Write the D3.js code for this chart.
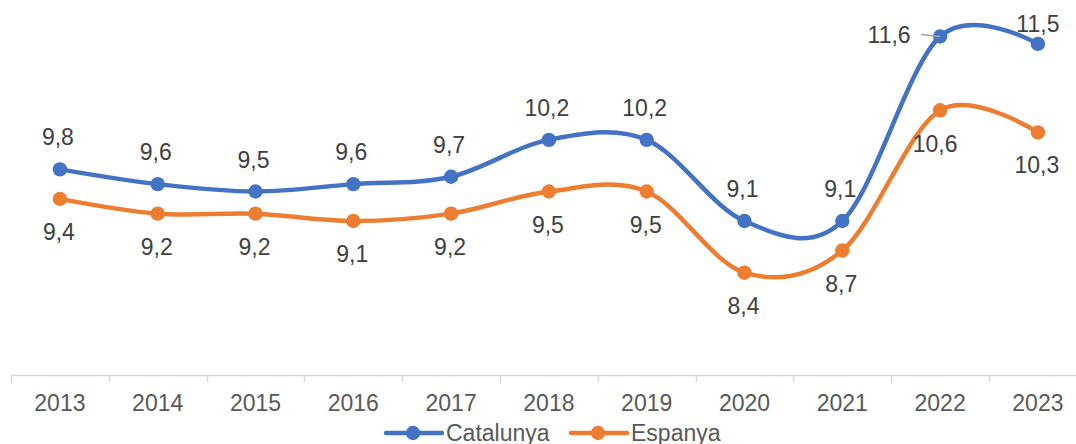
<!DOCTYPE html>
<html>
<head>
<meta charset="utf-8">
<script src="https://cdn.jsdelivr.net/npm/d3@7"></script>
<style>
  html, body { margin: 0; padding: 0; background: #fff; overflow: hidden; }
  svg { display: block; font-family: "Liberation Sans", Arial, sans-serif; }
</style>
</head>
<body>
<svg id="chart" width="1076" height="444"></svg>
<script>
// Anys i sèries
const years = ["2013","2014","2015","2016","2017","2018","2019","2020","2021","2022","2023"];
const catalunya = [9.8, 9.6, 9.5, 9.6, 9.7, 10.2, 10.2, 9.1, 9.1, 11.6, 11.5];
const espanya   = [9.4, 9.2, 9.2, 9.1, 9.2, 9.5, 9.5, 8.4, 8.7, 10.6, 10.3];
const seriesNames = ["Catalunya", "Espanya"];
const seriesColors = ["#4472C4", "#ED7D31"];

const W = 1076, H = 444;
const svg = d3.select("#chart");

const step = 97.8;
const x = d3.scaleBand().domain(years).range([11, 11 + step * years.length]).padding(0);
const cx = d => x(d) + x.bandwidth() / 2;
const y = d3.scaleLinear().domain([7, 12]).range([376, 7]);
const axisY = 375.5;

// Eix horitzontal
const axisG = svg.append("g").attr("transform", `translate(0,${axisY})`);
axisG.append("line")
  .attr("x1", x.range()[0]).attr("x2", x.range()[1])
  .attr("stroke", "#d9d9d9").attr("stroke-width", 1.5);
const bounds = years.map(d => x(d)).concat([x.range()[1]]);
axisG.selectAll("line.tick").data(bounds).join("line")
  .attr("class", "tick")
  .attr("x1", d => Math.round(d) + 0.5).attr("x2", d => Math.round(d) + 0.5)
  .attr("y1", 0).attr("y2", 7)
  .attr("stroke", "#d9d9d9").attr("stroke-width", 1.5);

const xAxis = d3.axisBottom(x).tickSize(0).tickPadding(0);
const xg = svg.append("g").attr("transform", `translate(0,${axisY})`).call(xAxis);
xg.select(".domain").remove();
xg.selectAll("text")
  .attr("y", 35.5).attr("dy", 0)
  .attr("fill", "#595959")
  .style("font-size", "23px")
  .style("font-family", "'Liberation Sans', Arial, sans-serif");

// Línies suavitzades
const line = d3.line()
  .x((d, i) => cx(years[i]))
  .y(d => y(d))
  .curve(d3.curveCardinal.tension(0));

const allSeries = [catalunya, espanya];
allSeries.forEach((vals, si) => {
  const g = svg.append("g");
  g.append("path")
    .datum(vals)
    .attr("d", line)
    .attr("fill", "none")
    .attr("stroke", seriesColors[si])
    .attr("stroke-width", 4.5)
    .attr("stroke-linecap", "round");
  g.selectAll("circle").data(vals).join("circle")
    .attr("cx", (d, i) => cx(years[i]))
    .attr("cy", d => y(d))
    .attr("r", 7.2)
    .attr("fill", seriesColors[si]);
});

// Etiquetes de dades
const fmt = v => d3.format(".1f")(v).replace(".", ",");
const fs = 23;
function labelPlacement(si, i) {
  // per defecte: Catalunya a sobre, Espanya a sota
  if (si === 0 && i === 9) return { dx: -51, dy: -2, leader: true };
  if (si === 0 && i === 10) return { dx: 0, dy: -20 };
  if (si === 1 && i === 9) return { dx: -5, dy: 34 };
  return si === 0 ? { dx: -2, dy: -32 } : { dx: -1, dy: 33 };
}
const labelsG = svg.append("g");
allSeries.forEach((vals, si) => {
  vals.forEach((v, i) => {
    const p = labelPlacement(si, i);
    const px = cx(years[i]), py = y(v);
    if (p.leader) {
      labelsG.append("line")
        .attr("x1", px + p.dx + 32).attr("y1", py - 2)
        .attr("x2", px).attr("y2", py)
        .attr("stroke", "#a6a6a6").attr("stroke-width", 1.5);
    }
    labelsG.append("text")
      .attr("x", px + p.dx)
      .attr("y", py + p.dy + 8)
      .attr("text-anchor", "middle")
      .attr("fill", "#404040")
      .style("font-size", fs + "px")
      .text(fmt(v));
  });
});

// Llegenda
const legendItems = [
  { name: seriesNames[0], color: seriesColors[0], x0: 386 },
  { name: seriesNames[1], color: seriesColors[1], x0: 571 }
];
const lg = svg.append("g");
legendItems.forEach(it => {
  const ly = 433;
  lg.append("line")
    .attr("x1", it.x0).attr("x2", it.x0 + 56)
    .attr("y1", ly).attr("y2", ly)
    .attr("stroke", it.color).attr("stroke-width", 4.5).attr("stroke-linecap", "round");
  lg.append("circle").attr("cx", it.x0 + 27).attr("cy", ly).attr("r", 7.2).attr("fill", it.color);
  lg.append("text")
    .attr("x", it.x0 + 60).attr("y", ly + 8)
    .attr("fill", "#595959")
    .style("font-size", "23px")
    .text(it.name);
});
</script>
</body>
</html>
